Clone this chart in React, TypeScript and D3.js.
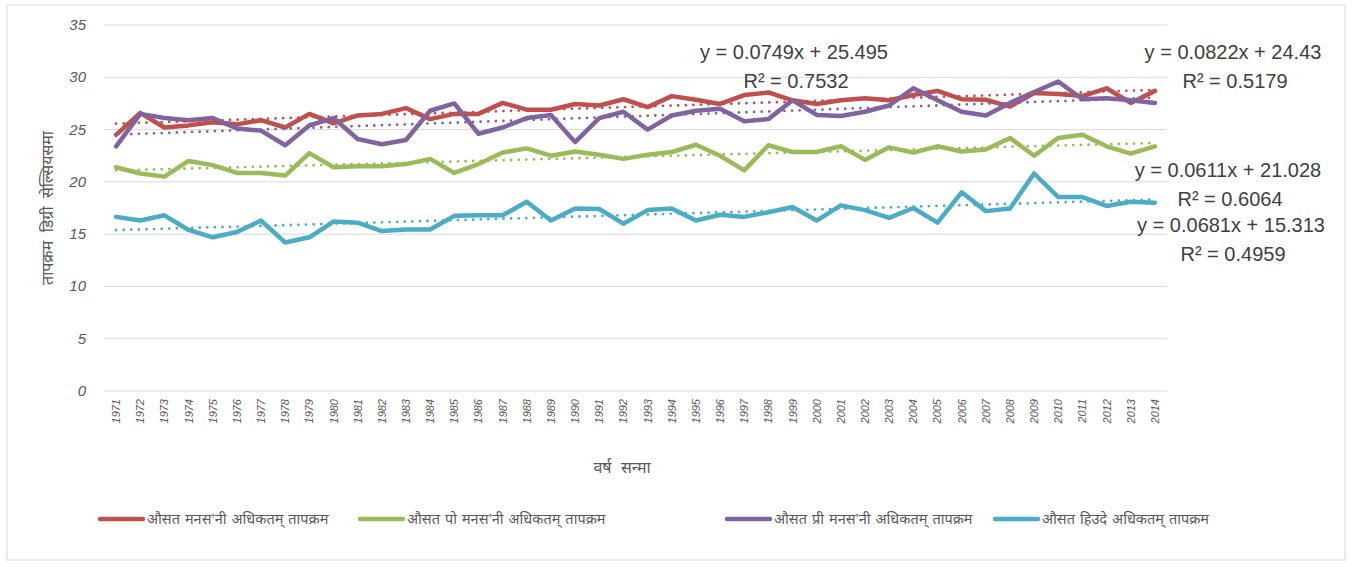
import * as d3 from "d3";

const years = [
  "1971", "1972", "1973", "1974", "1975", "1976", "1977", "1978", "1979", "1980", "1981",
  "1982", "1983", "1984", "1985", "1986", "1987", "1988", "1989", "1990", "1991", "1992",
  "1993", "1994", "1995", "1996", "1997", "1998", "1999", "2000", "2001", "2002", "2003",
  "2004", "2005", "2006", "2007", "2008", "2009", "2010", "2011", "2012", "2013", "2014",
];

const monsoon = [
  24.5, 26.6, 25.2, 25.4, 25.7, 25.5, 25.9, 25.2, 26.5, 25.6, 26.35, 26.5, 27.05, 26.0, 26.5,
  26.5, 27.55, 26.9, 26.9, 27.45, 27.3, 27.9, 27.15, 28.2, 27.85, 27.45, 28.3, 28.55, 27.8, 27.45,
  27.8, 28.0, 27.8, 28.3, 28.7, 27.9, 27.85, 27.2, 28.5, 28.4, 28.2, 28.95, 27.55, 28.7,
];
const postMonsoon = [
  21.4, 20.8, 20.5, 22.0, 21.6, 20.85, 20.85, 20.6, 22.75, 21.4, 21.5, 21.5, 21.7, 22.2, 20.85,
  21.7, 22.8, 23.2, 22.5, 22.9, 22.6, 22.2, 22.6, 22.85, 23.55, 22.5, 21.1, 23.5, 22.85, 22.85,
  23.4, 22.1, 23.3, 22.8, 23.4, 22.9, 23.1, 24.2, 22.5, 24.2, 24.5, 23.4, 22.7, 23.4,
];
const preMonsoon = [
  23.4, 26.5, 26.1, 25.9, 26.1, 25.1, 24.9, 23.5, 25.4, 26.1, 24.1, 23.6, 24.0, 26.8, 27.5,
  24.6, 25.2, 26.1, 26.4, 23.8, 26.1, 26.7, 25.0, 26.35, 26.8, 27.0, 25.8, 26.0, 27.8, 26.4,
  26.3, 26.7, 27.3, 28.95, 27.8, 26.7, 26.35, 27.55, 28.6, 29.6, 27.9, 28.0, 27.8, 27.55,
];
const winter = [
  16.65, 16.3, 16.8, 15.4, 14.7, 15.2, 16.3, 14.2, 14.7, 16.2, 16.1, 15.3, 15.45, 15.45, 16.75,
  16.8, 16.8, 18.1, 16.3, 17.45, 17.4, 16.0, 17.3, 17.45, 16.3, 16.85, 16.65, 17.1, 17.6, 16.3,
  17.75, 17.3, 16.55, 17.5, 16.1, 19.0, 17.2, 17.45, 20.8, 18.55, 18.55, 17.7, 18.1, 18.0,
];

const seriesNames = [
  "औसत मनस’नी अधिकतम् तापक्रम",
  "औसत पो मनस’नी अधिकतम् तापक्रम",
  "औसत प्री मनस’नी अधिकतम् तापक्रम",
  "औसत हिउदे अधिकतम् तापक्रम",
];
const seriesValues = [monsoon, postMonsoon, preMonsoon, winter];
const colors = ["#C0504D", "#9BBB59", "#8064A2", "#4BACC6"];

// trendline coefficients as printed on the chart (x = 1..44)
const trendSlopes = [0.0749, 0.0611, 0.0822, 0.0681];
const trendIntercepts = [25.495, 21.028, 24.43, 15.313];
const trendR2 = ["0.7532", "0.6064", "0.5179", "0.4959"];

const yTicks = [0, 5, 10, 15, 20, 25, 30, 35];

const W = 1359;
const H = 567;
const plot = { left: 104, right: 1167, top: 25, bottom: 391 };

// where each trendline label sits (center x, equation baseline)
const labelPos = [
  [794, 59],
  [1228, 177],
  [1233, 59],
  [1231, 232],
];
const legendX = [98, 358, 725, 993];

export default function App() {
  const x = d3
    .scaleBand<string>()
    .domain(years)
    .range([plot.left, plot.right]);
  const cx = (i: number) => (x(years[i]) as number) + x.bandwidth() / 2;
  const y = d3.scaleLinear().domain([0, 35]).range([plot.bottom, plot.top]);

  const line = d3
    .line<number>()
    .x((_, i) => cx(i))
    .y((d) => y(d));

  const font = "'Liberation Sans', 'Noto Sans', sans-serif";
  const axisColor = "#595959";

  return (
    <svg
      width={W}
      height={H}
      style={{ position: "absolute", left: 0, top: 0, background: "#fff" }}
      fontFamily={font}
    >
      <rect x={7} y={5} width={1338} height={555} fill="#fff" stroke="#d9d9d9" />

      {yTicks.map((t) => (
        <g key={t}>
          <line
            x1={plot.left}
            x2={plot.right}
            y1={y(t)}
            y2={y(t)}
            stroke="#d9d9d9"
            strokeWidth={1}
          />
          <text
            x={86}
            y={y(t) + 5}
            textAnchor="end"
            fontSize={15}
            fontStyle="italic"
            fill={axisColor}
          >
            {t}
          </text>
        </g>
      ))}

      {years.map((yr, i) => (
        <text
          key={yr}
          transform={`translate(${cx(i) + 4},${plot.bottom + 8}) rotate(-90)`}
          textAnchor="end"
          fontSize={11}
          fontStyle="italic"
          fill={axisColor}
        >
          {yr}
        </text>
      ))}

      <text
        transform={`translate(53,${(plot.top + plot.bottom) / 2}) rotate(-90)`}
        textAnchor="middle"
        fontSize={16}
        wordSpacing={4}
        fill={axisColor}
      >
        तापक्रम डिग्री सेल्सियसमा
      </text>
      <text
        x={622}
        y={473}
        textAnchor="middle"
        fontSize={16}
        wordSpacing={5}
        fill={axisColor}
      >
        वर्ष सन्मा
      </text>

      {seriesValues.map((vals, s) => (
        <path
          key={"s" + s}
          d={line(vals) ?? ""}
          fill="none"
          stroke={colors[s]}
          strokeWidth={4.5}
          strokeLinejoin="round"
          strokeLinecap="round"
        />
      ))}

      {seriesValues.map((vals, s) => {
        const n = vals.length;
        return (
          <line
            key={"t" + s}
            x1={cx(0)}
            x2={cx(n - 1)}
            y1={y(trendIntercepts[s] + trendSlopes[s] * 1)}
            y2={y(trendIntercepts[s] + trendSlopes[s] * n)}
            stroke={colors[s]}
            strokeWidth={2.8}
            strokeLinecap="round"
            strokeDasharray="0 7.6"
          />
        );
      })}

      {labelPos.map(([lx, ly], s) => (
        <g key={"l" + s} fill="#404040" fontSize={20} textAnchor="middle">
          <text x={lx} y={ly}>
            {`y = ${trendSlopes[s]}x + ${trendIntercepts[s]}`}
          </text>
          <text x={lx + 2} y={ly + 29}>
            {`R² = ${trendR2[s]}`}
          </text>
        </g>
      ))}

      {seriesNames.map((name, s) => (
        <g key={"g" + s} transform={`translate(${legendX[s]},519)`}>
          <line
            x1={2}
            x2={45}
            y1={0}
            y2={0}
            stroke={colors[s]}
            strokeWidth={4.5}
            strokeLinecap="round"
          />
          <text x={49} y={5} fontSize={14.5} wordSpacing={1} fill={axisColor}>
            {name}
          </text>
        </g>
      ))}
    </svg>
  );
}
